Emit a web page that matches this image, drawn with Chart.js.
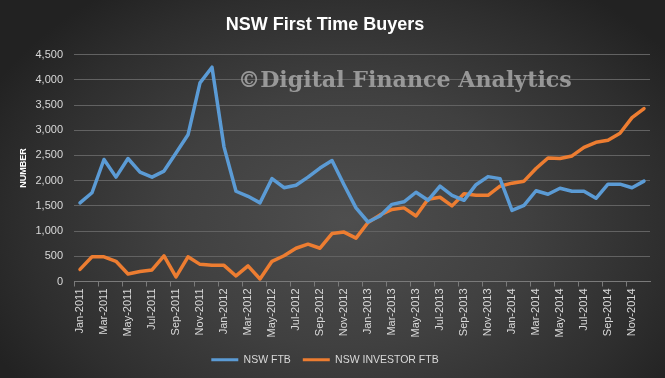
<!DOCTYPE html>
<html>
<head>
<meta charset="utf-8">
<script src="https://cdn.jsdelivr.net/npm/chart.js@4"></script>
<style>
  html, body { margin: 0; padding: 0; }
  body {
    width: 665px; height: 378px; overflow: hidden;
    background: radial-gradient(ellipse 60% 75% at 52% 58%, #4e4e4e 0%, #404040 45%, #2e2e2e 80%, #222 100%);
  }
  canvas { display: block; }
</style>
</head>
<body>
<canvas id="chart" width="665" height="378"></canvas>
<script>
const months = ['Jan', 'Feb', 'Mar', 'Apr', 'May', 'Jun', 'Jul', 'Aug', 'Sep', 'Oct', 'Nov', 'Dec'];
const years = [2011, 2012, 2013, 2014];
const labels = [];
years.forEach(y => months.forEach(m => labels.push(m + '-' + y)));

const nswFtb = [
  1560, 1760, 2420, 2070, 2440, 2170, 2070, 2190, 2550, 2910, 3940, 4250,
  2670, 1790, 1690, 1560, 2040, 1860, 1910, 2070, 2250, 2400, 1920, 1460,
  1180, 1300, 1530, 1580, 1770, 1610, 1890, 1710, 1610, 1920, 2080, 2040,
  1410, 1510, 1800, 1730, 1850, 1790, 1790, 1650, 1930, 1930, 1860, 1990
];
const nswInvestorFtb = [
  240, 490, 490, 400, 150, 200, 230, 510, 90, 490, 340, 320,
  320, 110, 310, 50, 400, 510, 660, 740, 660, 950, 980, 860,
  1170, 1320, 1430, 1460, 1300, 1630, 1670, 1500, 1740, 1710, 1710, 1890,
  1950, 1990, 2240, 2450, 2440, 2490, 2660, 2760, 2800, 2940, 3250, 3430
];

const textColor = '#d9d9d9';
const gridColor = '#626262';

const watermark = {
  id: 'watermark',
  afterDatasetsDraw(chart) {
    const ctx = chart.ctx;
    const text = '\u00a9Digital Finance Analytics';
    ctx.save();
    let size = 24;
    ctx.font = 'bold ' + size + 'px "DejaVu Serif"';
    size = size * 334 / ctx.measureText(text).width;
    ctx.font = 'bold ' + size + 'px "DejaVu Serif"';
    ctx.fillStyle = 'rgba(175,175,175,0.8)';
    ctx.textAlign = 'left';
    ctx.textBaseline = 'alphabetic';
    ctx.fillText(text, 238, 87);
    ctx.restore();
  }
};

new Chart(document.getElementById('chart'), {
  type: 'line',
  data: {
    labels: labels,
    datasets: [
      { label: 'NSW FTB', data: nswFtb, borderColor: '#5b9bd5', backgroundColor: '#5b9bd5' },
      { label: 'NSW INVESTOR FTB', data: nswInvestorFtb, borderColor: '#ed7d31', backgroundColor: '#ed7d31' }
    ]
  },
  options: {
    responsive: false,
    animation: false,
    layout: { padding: { left: 0, right: 15, top: 0, bottom: 3 } },
    elements: {
      line: { borderWidth: 3.5, tension: 0, borderCapStyle: 'round', borderJoinStyle: 'round' },
      point: { radius: 0 }
    },
    plugins: {
      title: {
        display: true,
        text: 'NSW First Time Buyers',
        color: '#ffffff',
        font: { family: 'Liberation Sans', size: 18, weight: 'bold' },
        padding: { top: 14, bottom: 19 }
      },
      legend: {
        position: 'bottom',
        labels: {
          color: textColor,
          font: { family: 'Liberation Sans', size: 10.5 },
          boxWidth: 27,
          boxHeight: 3,
          padding: 12,
          generateLabels: chart => Chart.defaults.plugins.legend.labels.generateLabels(chart)
            .map(l => Object.assign(l, { lineWidth: 0, fillStyle: l.strokeStyle }))
        }
      },
      tooltip: { enabled: false }
    },
    scales: {
      x: {
        offset: true,
        grid: {
          offset: true,
          drawOnChartArea: false,
          drawTicks: true,
          tickLength: 5,
          color: c => (c.index % 2 === 0 ? '#7a7a7a' : 'rgba(0,0,0,0)')
        },
        border: { display: true, color: '#7a7a7a' },
        ticks: {
          autoSkip: false,
          maxRotation: 90,
          minRotation: 90,
          padding: 2,
          color: textColor,
          font: { family: 'Liberation Sans', size: 11 },
          callback: function (v, i) { return i % 2 === 0 ? this.getLabelForValue(v) : ''; }
        },
        afterFit: s => { s.height = 61; }
      },
      y: {
        min: 0,
        max: 4500,
        ticks: {
          stepSize: 500,
          padding: 11,
          color: textColor,
          font: { family: 'Liberation Sans', size: 11 },
          callback: v => v.toLocaleString('en-US')
        },
        grid: { color: gridColor, drawTicks: false },
        border: { display: false },
        title: {
          display: true,
          text: 'NUMBER',
          color: '#ffffff',
          font: { family: 'Liberation Sans', size: 9, weight: 'bold' },
          padding: { top: 18, bottom: 0 }
        },
        afterFit: s => { s.width = 74; }
      }
    }
  },
  plugins: [watermark]
});
</script>
</body>
</html>
